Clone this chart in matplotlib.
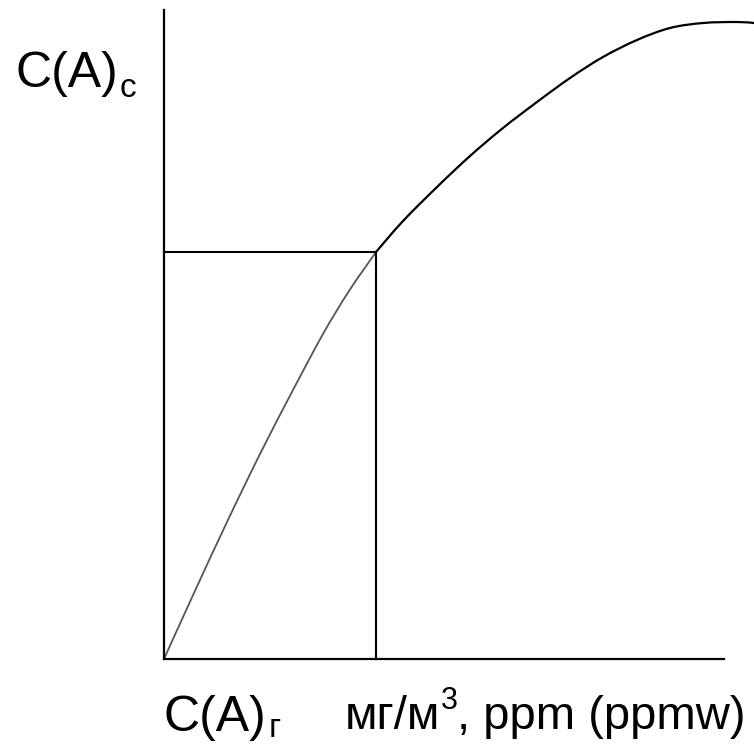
import matplotlib
matplotlib.use("Agg")
import matplotlib.pyplot as plt
from matplotlib.path import Path
from matplotlib.patches import PathPatch

# ---- data (arbitrary concentration units) ----
gas_x = [0.00, 0.30, 0.63, 0.96, 1.29, 1.59, 1.85, 2.12]
gas_y = [0.00, 0.66, 1.37, 2.05, 2.69, 3.25, 3.68, 4.07]
sol_x = [2.12, 2.39, 2.73, 3.06, 3.39, 3.73, 4.06, 4.39, 4.73, 5.06, 5.39, 5.73, 5.90]
sol_y = [4.07, 4.38, 4.72, 5.03, 5.31, 5.57, 5.81, 6.02, 6.19, 6.31, 6.36, 6.37, 6.36]
mark_x = 2.12
mark_y = 4.07

W, H = 754, 745
fam = 'Liberation Sans'

fig = plt.figure(figsize=(W / 100, H / 100), dpi=100)
ax = fig.add_axes([164 / W, (H - 659) / H, (724 - 164) / W, (659 - 10) / H])
ax.set_xlim(0, 5.60)
ax.set_ylim(0, 6.49)
for s in ['top', 'right']:
    ax.spines[s].set_visible(False)
for s in ['left', 'bottom']:
    ax.spines[s].set_linewidth(1.6)
    ax.spines[s].set_color('black')
ax.set_xticks([])
ax.set_yticks([])


def smooth_path(xs, ys):
    # cubic Bezier segments through the read points (Catmull-Rom style)
    pts = list(zip(xs, ys))
    verts = [pts[0]]
    codes = [Path.MOVETO]
    n = len(pts)
    for i in range(n - 1):
        p0 = pts[i - 1] if i > 0 else pts[i]
        p1 = pts[i]
        p2 = pts[i + 1]
        p3 = pts[i + 2] if i + 2 < n else pts[i + 1]
        c1 = (p1[0] + (p2[0] - p0[0]) / 6, p1[1] + (p2[1] - p0[1]) / 6)
        c2 = (p2[0] - (p3[0] - p1[0]) / 6, p2[1] - (p3[1] - p1[1]) / 6)
        verts += [c1, c2, p2]
        codes += [Path.CURVE4] * 3
    return Path(verts, codes)


ax.add_patch(PathPatch(smooth_path(gas_x, gas_y), fill=False, edgecolor='#555555',
                       lw=1.3, clip_on=False, capstyle='round'))
ax.add_patch(PathPatch(smooth_path(sol_x, sol_y), fill=False, edgecolor='black',
                       lw=1.6, clip_on=False, capstyle='round'))
ax.plot([0, mark_x, mark_x], [mark_y, mark_y, 0], color='black', lw=1.5, clip_on=False)


def fx(px):
    return px / W


def fy(py):
    return 1 - py / H


fig.canvas.draw()
r = fig.canvas.get_renderer()


def piece(x, y, s, size):
    t = fig.text(fx(x), fy(y), s, fontsize=size, family=fam, va='baseline', ha='left')
    bb = t.get_window_extent(r)
    return bb.x1


# top label
x1 = piece(15, 87, 'C(A)', 36)
piece(x1 + 2, 97, 'c', 24)
# bottom label
x1 = piece(164, 731, 'C(A)', 36)
piece(x1 + 2, 737, 'г', 24)
# units
x1 = piece(345, 729, 'мг/м', 34)
x1 = piece(x1, 709, '3', 22)
piece(x1, 729, ', ppm (ppmw)', 34)

fig.savefig('out.png', dpi=100)
